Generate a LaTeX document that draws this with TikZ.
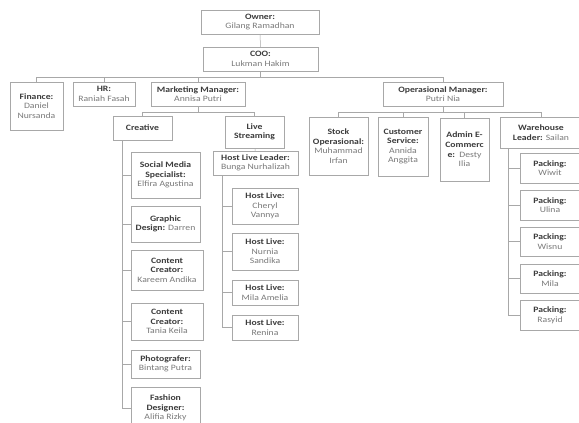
\documentclass[tikz,border=0pt]{standalone}
\usepackage{fontspec}
\setmainfont{Carlito}[FakeStretch=1.18]
\definecolor{ink}{HTML}{3C3C3C}
\definecolor{soft}{HTML}{7A7A7A}
\definecolor{rim}{HTML}{A8A8A8}
\newcommand{\hd}[1]{\textbf{\color{ink}#1}}
\tikzset{
  box/.style={draw=rim,fill=white,align=center,text=soft,inner sep=1pt,
    font=\fontsize{8.2}{9.6}\selectfont},
  link/.style={draw=rim,line width=0.5pt}
}

\begin{document}
\begin{tikzpicture}[x=1pt,y=-1pt]
\fill[white] (0,0) rectangle (579,423);
\useasboundingbox (0,0) rectangle (579,423);

\node[box,minimum width=118,minimum height=24] at (260,22) (own) {\hd{Owner:}\\Gilang Ramadhan};
\node[box,minimum width=115,minimum height=24] at (260.5,59) (coo) {\hd{COO:}\\Lukman Hakim};

\node[box,minimum width=53,minimum height=48] at (36.5,106) (fin) {\hd{Finance:}\\Daniel\\Nursanda};
\node[box,minimum width=62,minimum height=24] at (104,94) (hr) {\hd{HR:}\\Raniah Fasah};
\node[box,minimum width=94,minimum height=24] at (198,94) (mkt) {\hd{Marketing Manager:}\\Annisa Putri};
\node[box,minimum width=120,minimum height=24] at (443,94) (ops) {\hd{Operasional Manager:}\\Putri Nia};

\node[box,minimum width=59,minimum height=24] at (142.5,128) (cre) {\hd{Creative}};
\node[box,minimum width=59,minimum height=32] at (254.5,132) (live) {\hd{Live}\\\hd{Streaming}};

\node[box,minimum width=69,minimum height=46] at (165.5,175) (smm) {\hd{Social Media}\\\hd{Specialist:}\\Elfira Agustina};
\node[box,minimum width=69,minimum height=36] at (165.5,224) (gd) {\hd{Graphic}\\\hd{Design:} Darren};
\node[box,minimum width=72,minimum height=40] at (167,270) (cc1) {\hd{Content}\\\hd{Creator:}\\Kareem Andika};
\node[box,minimum width=72,minimum height=37] at (167,321.5) (cc2) {\hd{Content}\\\hd{Creator:}\\Tania Keila};
\node[box,minimum width=69,minimum height=28] at (165.5,364) (foto) {\hd{Photografer:}\\Bintang Putra};
\node[box,minimum width=69,minimum height=42] at (165.5,408) (fd) {\hd{Fashion}\\\hd{Designer:}\\Alifia Rizky};

\node[box,minimum width=85,minimum height=24] at (255.5,163) (hll) {\hd{Host Live Leader:}\\Bunga Nurhalizah};
\node[box,minimum width=66,minimum height=36] at (265,206) (h1) {\hd{Host Live:}\\Cheryl\\Vannya};
\node[box,minimum width=66,minimum height=37] at (265,251.5) (h2) {\hd{Host Live:}\\Nurnia\\Sandika};
\node[box,minimum width=66,minimum height=25] at (265,292.5) (h3) {\hd{Host Live:}\\Mila Amelia};
\node[box,minimum width=66,minimum height=25] at (265,327.5) (h4) {\hd{Host Live:}\\Renina};

\node[box,minimum width=59,minimum height=58] at (338.5,146) (stk) {\hd{Stock}\\\hd{Operasional:}\\Muhammad\\Irfan};
\node[box,minimum width=50,minimum height=59] at (403,146.5) (cs) {\hd{Customer}\\\hd{Service:}\\Annida\\Anggita};
\node[box,minimum width=49,minimum height=63] at (464.5,149.5) (adm) {\hd{Admin E-}\\\hd{Commerc}\\\hd{e:}\ \ Desty\\Ilia};
\node[box,minimum width=82,minimum height=31] at (541,132.5) (wh) {\hd{Warehouse}\\\hd{Leader:} Sailan};

\node[box,minimum width=60,minimum height=30] at (550,168) (p1) {\hd{Packing:}\\Wiwit};
\node[box,minimum width=60,minimum height=30] at (550,205) (p2) {\hd{Packing:}\\Ulina};
\node[box,minimum width=60,minimum height=29] at (550,241.5) (p3) {\hd{Packing:}\\Wisnu};
\node[box,minimum width=60,minimum height=29] at (550,278.5) (p4) {\hd{Packing:}\\Mila};
\node[box,minimum width=60,minimum height=30] at (550,315) (p5) {\hd{Packing:}\\Rasyid};

\coordinate (b1) at (260.5,77);
\coordinate (b2) at (198,112);
\coordinate (b3) at (443,112);
\coordinate (c0) at (122,140);
\coordinate (l0) at (222,175);
\coordinate (w0) at (508,148);

\draw[link] (own) -- (coo);
\draw[link] (coo) -- (b1);
\foreach \n in {fin,hr,mkt,ops}
  \draw[link] (b1) -| (\n);
\draw[link] (mkt) -- (b2);
\foreach \n in {cre,live}
  \draw[link] (b2) -| (\n);
\foreach \n in {smm,gd,cc1,cc2,foto,fd}
  \draw[link] (c0) |- (\n.west);
\draw[link] (live) -- (hll);
\foreach \n in {h1,h2,h3,h4}
  \draw[link] (l0) |- (\n.west);
\draw[link] (ops) -- (b3);
\foreach \n in {stk,cs,adm,wh}
  \draw[link] (b3) -| (\n);
\foreach \n in {p1,p2,p3,p4,p5}
  \draw[link] (w0) |- (\n.west);
\end{tikzpicture}
\end{document}
